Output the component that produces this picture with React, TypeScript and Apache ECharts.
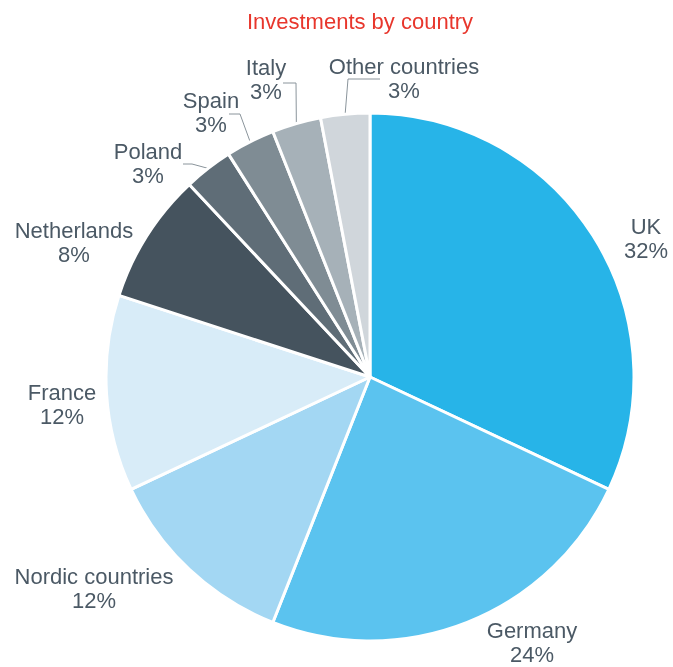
import React, { useEffect, useRef } from "react";
import * as echarts from "echarts";

const categories = [
  "UK",
  "Germany",
  "Nordic countries",
  "France",
  "Netherlands",
  "Poland",
  "Spain",
  "Italy",
  "Other countries",
];
const values = [32, 24, 12, 12, 8, 3, 3, 3, 3];
const colors = [
  "#27b4e8",
  "#5bc3ef",
  "#a3d7f3",
  "#d8ecf8",
  "#45535e",
  "#5f6d77",
  "#7f8c94",
  "#a6b1b8",
  "#d0d6db",
];

// layout: label centre, and (for small slices) label-line elbow & end
const CX = 370;
const CY = 377;
const R = 264;
const labelCenters: [number, number][] = [
  [646, 238],
  [532, 642],
  [94, 588],
  [62, 404],
  [74, 242],
  [148, 163],
  [211, 112],
  [266, 79],
  [404, 78],
];
const lineBends: ([number, number][] | null)[] = [
  null,
  null,
  null,
  null,
  null,
  [[192, 164], [183, 164]],
  [[240, 114], [229, 114]],
  [[296, 83], [283, 83]],
  [[348, 79], [380, 79]],
];

export default function App() {
  const ref = useRef<HTMLDivElement>(null);
  useEffect(() => {
    if (!ref.current) return;
    const chart = echarts.init(ref.current, null, { renderer: "svg" });
    const total = values.reduce((a, b) => a + b, 0);
    const mids: number[] = [];
    let acc = 0;
    values.forEach((v) => {
      mids.push(((acc + v / 2) / total) * Math.PI * 2);
      acc += v;
    });
    chart.setOption({
      animation: false,
      graphic: [
        {
          type: "text",
          x: 360,
          y: 21,
          style: {
            text: "Investments by country",
            align: "center",
            verticalAlign: "middle",
            fill: "#e8362c",
            font: "22px 'Liberation Sans', Arial, sans-serif",
          },
        },
      ],
      series: [
        {
          type: "pie",
          center: [CX, CY],
          radius: [0, R],
          startAngle: 90,
          clockwise: true,
          avoidLabelOverlap: false,
          itemStyle: { borderColor: "#ffffff", borderWidth: 3 },
          label: {
            show: true,
            position: "outside",
            formatter: "{b}\n{c}%",
            color: "#4b5965",
            fontSize: 22,
            lineHeight: 24,
            fontFamily: "'Liberation Sans', Arial, sans-serif",
          },
          labelLine: {
            show: true,
            lineStyle: { color: "#8a949b", width: 1 },
          },
          labelLayout: (params: any) => {
            const i = params.dataIndex;
            const [x, y] = labelCenters[i];
            const res: any = { x, y, align: "center", verticalAlign: "middle" };
            const bends = lineBends[i];
            if (bends) {
              const a = mids[i];
              const sx = CX + R * Math.sin(a);
              const sy = CY - R * Math.cos(a);
              res.labelLinePoints = [[sx, sy], bends[0], bends[1]];
            } else {
              res.labelLinePoints = [[x, y], [x, y], [x, y]];
            }
            return res;
          },
          data: categories.map((name, i) => ({
            name,
            value: values[i],
            itemStyle: { color: colors[i] },
            labelLine: { show: lineBends[i] !== null },
          })),
        },
      ],
    });
    return () => chart.dispose();
  }, []);
  return (
    <div
      ref={ref}
      style={{ position: "fixed", left: 0, top: 0, width: 673, height: 667 }}
    />
  );
}
